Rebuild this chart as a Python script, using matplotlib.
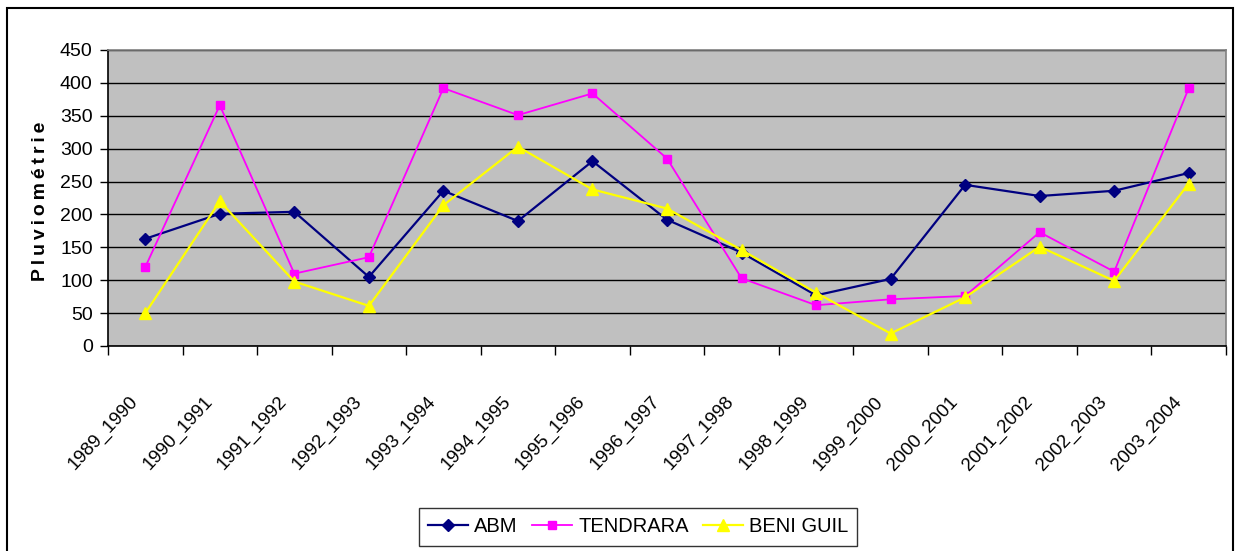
import matplotlib
matplotlib.use("Agg")
import matplotlib.pyplot as plt
from matplotlib.transforms import ScaledTranslation
from matplotlib.patches import Rectangle

plt.rcParams['font.family'] = ['Liberation Sans', 'DejaVu Sans']

categories = ["1989_1990", "1990_1991", "1991_1992", "1992_1993", "1993_1994",
              "1994_1995", "1995_1996", "1996_1997", "1997_1998", "1998_1999",
              "1999_2000", "2000_2001", "2001_2002", "2002_2003", "2003_2004"]
abm = [163, 201, 204, 105, 236, 190, 281, 192, 142, 77, 102, 245, 228, 236, 263]
tendrara = [120, 366, 110, 135, 392, 351, 384, 285, 103, 62, 71, 76, 173, 113, 392]
beni_guil = [50, 220, 98, 61, 214, 303, 238, 209, 146, 81, 19, 74, 151, 99, 247]
yticks = list(range(0, 451, 50))

W, H = 1238, 551
fig = plt.figure(figsize=(W / 100, H / 100), dpi=100)
ax = fig.add_axes([108 / W, 1 - 346 / H, (1226 - 108) / W, (346 - 50) / H])
ax.set_facecolor('#C0C0C0')

x = list(range(len(categories)))
l1, = ax.plot(x, abm, color='#000080', lw=1.6, marker='D', ms=5.8,
              mfc='#000080', mec='#000080', label='ABM', zorder=3)
l2, = ax.plot(x, tendrara, color='#FF00FF', lw=1.3, marker='s', ms=6.4,
              mfc='#FF00FF', mec='#FF00FF', label='TENDRARA', zorder=3)
l3, = ax.plot(x, beni_guil, color='#FFFF00', lw=1.6, marker='^', ms=8,
              mfc='#FFFF00', mec='#FFFF00', label='BENI GUIL', zorder=3)

ax.set_xlim(-0.5, len(categories) - 0.5)
ax.set_ylim(0, 450)
ax.set_yticks(yticks)
ax.yaxis.grid(True, color='black', lw=1)
ax.set_axisbelow(True)
ax.tick_params(axis='y', direction='out', length=6, width=1, pad=5, labelsize=14)

ax.set_xticks(x)
ax.set_xticklabels(categories, fontsize=13.5, rotation=47, ha='right', va='center',
                   rotation_mode='anchor')
ax.tick_params(axis='x', which='major', length=0, pad=0)
ax.set_xticks([i - 0.5 for i in range(len(categories) + 1)], minor=True)
ax.tick_params(axis='x', which='minor', direction='out', length=6.5, width=1)
for lab in ax.get_xticklabels():
    lab.set_transform(lab.get_transform() + ScaledTranslation(-0.10, -0.53, fig.dpi_scale_trans))

ax.spines['top'].set_color('#808080')
ax.spines['right'].set_color('#808080')
ax.spines['left'].set_color('black')
ax.spines['bottom'].set_color('black')
for s in ax.spines.values():
    s.set_linewidth(1.2)

ylabel = '\u2009'.join('Pluviométrie')
fig.text(41 / W, 1 - 201 / H, ylabel, rotation=90, ha='center', va='center',
         fontsize=14, fontweight='bold')

leg = fig.legend(handles=[l1, l2, l3], loc='center', bbox_to_anchor=(638 / W, 1 - 527 / H),
                 ncol=3, fontsize=14.5, frameon=True, fancybox=False, edgecolor='black',
                 handlelength=2.0, handletextpad=0.3, columnspacing=0.7,
                 borderpad=0.45, borderaxespad=0)
leg.get_frame().set_linewidth(1.0)

fig.patches.append(Rectangle((7 / W, -0.01), (1233 - 7) / W, 1.01 - 8 / H,
                             transform=fig.transFigure, fill=False, edgecolor='black',
                             lw=1.5))

fig.savefig('out.png', dpi=100)
